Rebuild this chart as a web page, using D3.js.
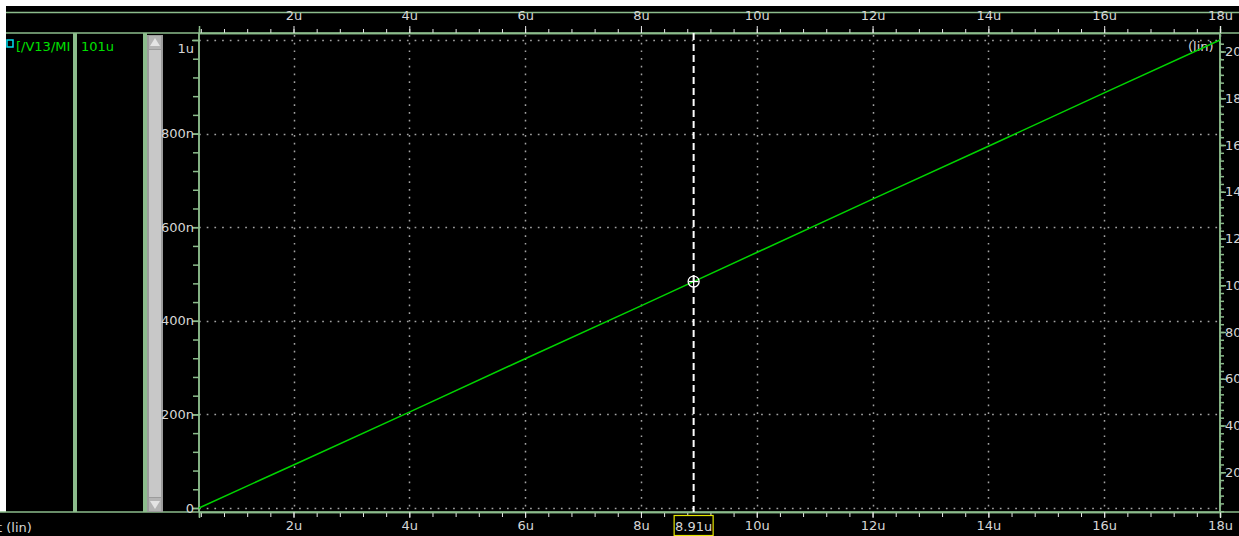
<!DOCTYPE html>
<html>
<head>
<meta charset="utf-8">
<script src="https://cdn.jsdelivr.net/npm/d3@7"></script>
<style>
  html, body { margin: 0; padding: 0; background: #000; overflow: hidden; }
  svg { display: block; }
  text { font-family: "DejaVu Sans", sans-serif; font-size: 13px; }
</style>
</head>
<body>
<svg id="chart" width="1239" height="536"></svg>
<script>
// Sweep samples: time in µs, current in µA
const timeValues = [0.368, 2, 4, 6, 8, 10, 12, 14, 16, 18];
const currentValues = [0, 0.092, 0.205, 0.319, 0.432, 0.546, 0.660, 0.773, 0.887, 1.0];

// Axis ticks and labels
const xTicks = [2, 4, 6, 8, 10, 12, 14, 16, 18];
const xTickLabels = ["2u", "4u", "6u", "8u", "10u", "12u", "14u", "16u", "18u"];
const yTicks = [0, 0.2, 0.4, 0.6, 0.8, 1.0];
const yTickLabels = ["0", "200n", "400n", "600n", "800n", "1u"];
const rTicks = [20, 40, 60, 80, 100, 120, 140, 160, 180, 200];
const rTickLabels = ["20u", "40u", "60u", "80u", "100u", "120u", "140u", "160u", "180u", "200u"];

// Signal legend and cursor
const signalName = "[/V13/MI";
const signalValue = "101u";
const cursorTime = 8.91;
const cursorLabel = "8.91u";

const svg = d3.select("#chart");
const W = 1239, H = 536;
const axisColor = "#8cbc8c";
const textColor = "#d6d6d6";
const gridColor = "#a2a2a2";

// Plot frame
const plot = { left: 199, right: 1220, top: 33, bottom: 512 };

const x = d3.scaleLinear().domain([0.368, 18]).range([plot.left, plot.right]);
const y = d3.scaleLinear().domain([0, 1]).range([508, 40]);
const yRight = d3.scaleLinear().domain([0, 200]).range([519, 51.5]);

// Background and window borders
svg.append("rect").attr("width", W).attr("height", H).attr("fill", "#000");
svg.append("rect").attr("x", 0).attr("y", 0).attr("width", W).attr("height", 6).attr("fill", "#fff");
svg.append("rect").attr("x", 0).attr("y", 0).attr("width", 6).attr("height", 512).attr("fill", "#fff");

svg.append("line").attr("x1", 6).attr("x2", W).attr("y1", 12.5).attr("y2", 12.5)
  .attr("stroke", axisColor).attr("stroke-width", 1.5);
svg.append("line").attr("x1", 6).attr("x2", W).attr("y1", plot.top).attr("y2", plot.top)
  .attr("stroke", axisColor).attr("stroke-width", 1.5);
svg.append("line").attr("x1", 0).attr("x2", W).attr("y1", plot.bottom).attr("y2", plot.bottom)
  .attr("stroke", axisColor).attr("stroke-width", 1.5);

// Left panel: signal list with splitters and scrollbar
const panel = svg.append("g");
panel.append("rect").attr("x", 7).attr("y", 40).attr("width", 6).attr("height", 7)
  .attr("fill", "none").attr("stroke", "#00e0f0").attr("stroke-width", 1.5);
panel.append("text").attr("x", 16).attr("y", 51).attr("fill", "#00e000").text(signalName);
panel.append("text").attr("x", 81).attr("y", 51).attr("fill", "#00e000").text(signalValue);
panel.append("rect").attr("x", 73).attr("y", plot.top).attr("width", 4).attr("height", plot.bottom - plot.top)
  .attr("fill", axisColor);
panel.append("rect").attr("x", 143).attr("y", plot.top).attr("width", 4).attr("height", plot.bottom - plot.top)
  .attr("fill", axisColor);
panel.append("rect").attr("x", 147).attr("y", 35).attr("width", 16).attr("height", 477).attr("fill", "#9c9c9c");
panel.append("rect").attr("x", 149).attr("y", 50).attr("width", 12).attr("height", 447).attr("fill", "#c8c8c8");
panel.append("rect").attr("x", 149).attr("y", 36).attr("width", 12).attr("height", 13).attr("fill", "#b4b4b4");
panel.append("rect").attr("x", 149).attr("y", 498).attr("width", 12).attr("height", 13).attr("fill", "#b4b4b4");
panel.append("path").attr("d", "M155,38 L160,46 L150,46 Z").attr("fill", "#e4e4e4");
panel.append("path").attr("d", "M150,501 L160,501 L155,509 Z").attr("fill", "#e4e4e4");

// Dotted grid
const grid = svg.append("g").attr("stroke", gridColor).attr("stroke-width", 1.5)
  .attr("stroke-dasharray", "1.7 6");
grid.selectAll(".hg").data(yTicks).join("line")
  .attr("x1", plot.left).attr("x2", plot.right)
  .attr("y1", d => Math.round(y(d)) + 0.5).attr("y2", d => Math.round(y(d)) + 0.5);
grid.selectAll(".vg").data(xTicks).join("line")
  .attr("x1", d => Math.round(x(d)) + 0.5).attr("x2", d => Math.round(x(d)) + 0.5)
  .attr("y1", plot.top + 2).attr("y2", plot.bottom);

// Minor tick helper
function range(a, b, step) {
  const out = [];
  for (let v = a; v <= b + 1e-9; v += step) out.push(+v.toFixed(6));
  return out;
}

// Top axis
const xMinor = range(0.4, 18, 0.4).filter(v => x(v) >= plot.left);
const topAxis = svg.append("g").attr("transform", `translate(0,${plot.top})`)
  .call(d3.axisTop(x).tickValues(xMinor).tickSize(4).tickFormat(""));
const topMajor = svg.append("g").attr("transform", `translate(0,${plot.top})`)
  .call(d3.axisTop(x).tickValues(xTicks).tickSize(7).tickPadding(6)
    .tickFormat((d, i) => xTickLabels[i]));

// Bottom axis
const bottomAxis = svg.append("g").attr("transform", `translate(0,${plot.bottom})`)
  .call(d3.axisBottom(x).tickValues(xMinor).tickSize(5).tickFormat(""));
const bottomMajor = svg.append("g").attr("transform", `translate(0,${plot.bottom})`)
  .call(d3.axisBottom(x).tickValues(xTicks).tickSize(6).tickPadding(3)
    .tickFormat((d, i) => xTickLabels[i]));

// Left axis
const yMinor = range(0, 1.0, 0.04);
const leftAxis = svg.append("g").attr("transform", `translate(${plot.left},0)`)
  .call(d3.axisLeft(y).tickValues(yMinor).tickSize(6).tickFormat(""));
const leftMajor = svg.append("g").attr("transform", `translate(${plot.left},0)`)
  .call(d3.axisLeft(y).tickValues(yTicks).tickSize(7).tickPadding(-2)
    .tickFormat((d, i) => yTickLabels[i]));

// Right axis
const rMinor = range(0, 206, 20 / 6).filter(v => yRight(v) >= plot.top && yRight(v) <= plot.bottom);
const rightAxis = svg.append("g").attr("transform", `translate(${plot.right},0)`)
  .call(d3.axisRight(yRight).tickValues(rMinor).tickSize(4).tickFormat(""));
const rightMajor = svg.append("g").attr("transform", `translate(${plot.right},0)`)
  .call(d3.axisRight(yRight).tickValues(rTicks).tickSize(6).tickPadding(-1)
    .tickFormat((d, i) => rTickLabels[i]));

[topAxis, topMajor, bottomAxis, bottomMajor, leftAxis, leftMajor, rightAxis, rightMajor].forEach(g => {
  g.select(".domain").attr("stroke", axisColor).attr("stroke-width", 1.5);
  g.selectAll(".tick line").attr("stroke", "#e8e8e8").attr("stroke-width", 1);
  g.selectAll("text").attr("fill", textColor).style("font-size", "13px")
    .style("font-family", "'DejaVu Sans', sans-serif");
});
// Axis lines themselves are the frame
[leftAxis, leftMajor, rightAxis, rightMajor].forEach(g => {
  g.select(".domain").attr("d", `M0,${plot.top}V${plot.bottom}`);
  g.selectAll(".tick line").attr("stroke", axisColor).attr("stroke-width", 1.5);
});
// Keep the topmost left label inside the frame
leftMajor.selectAll(".tick text").filter(d => d === 1).attr("dy", "0.95em");

// Axis captions
svg.append("text").attr("x", 1188).attr("y", 51).attr("fill", textColor).text("(lin)");
svg.append("text").attr("x", -3).attr("y", 532).attr("fill", textColor).text("t (lin)");

// Signal trace
const pts = timeValues.map((t, i) => [t, currentValues[i]]);
const lineGen = d3.line().x(d => x(d[0])).y(d => y(d[1]));
svg.append("path").datum(pts).attr("d", lineGen)
  .attr("fill", "none").attr("stroke", "#00d400").attr("stroke-width", 1.5);

// Cursor: value on the trace at the cursor time
const bi = d3.bisectRight(timeValues, cursorTime) - 1;
const frac = (cursorTime - timeValues[bi]) / (timeValues[bi + 1] - timeValues[bi]);
const cursorValue = currentValues[bi] + frac * (currentValues[bi + 1] - currentValues[bi]);
const cx = x(cursorTime);
const cy = y(cursorValue);

svg.append("line").attr("x1", cx).attr("x2", cx).attr("y1", plot.top).attr("y2", plot.bottom)
  .attr("stroke", "#fff").attr("stroke-width", 2).attr("stroke-dasharray", "7 4");
const marker = svg.append("g").attr("stroke", "#fff").attr("fill", "none").attr("stroke-width", 1.3);
marker.append("circle").attr("cx", cx).attr("cy", cy).attr("r", 5.5);
marker.append("line").attr("x1", cx - 5).attr("x2", cx + 5).attr("y1", cy).attr("y2", cy);
marker.append("line").attr("x1", cx).attr("x2", cx).attr("y1", cy - 5).attr("y2", cy + 5);

svg.append("rect").attr("x", cx - 19.5).attr("y", 515.5).attr("width", 39).attr("height", 20)
  .attr("fill", "#000").attr("stroke", "#e6e600").attr("stroke-width", 1.2);
svg.append("text").attr("x", cx).attr("y", 531).attr("text-anchor", "middle")
  .attr("fill", textColor).text(cursorLabel);
</script>
</body>
</html>
